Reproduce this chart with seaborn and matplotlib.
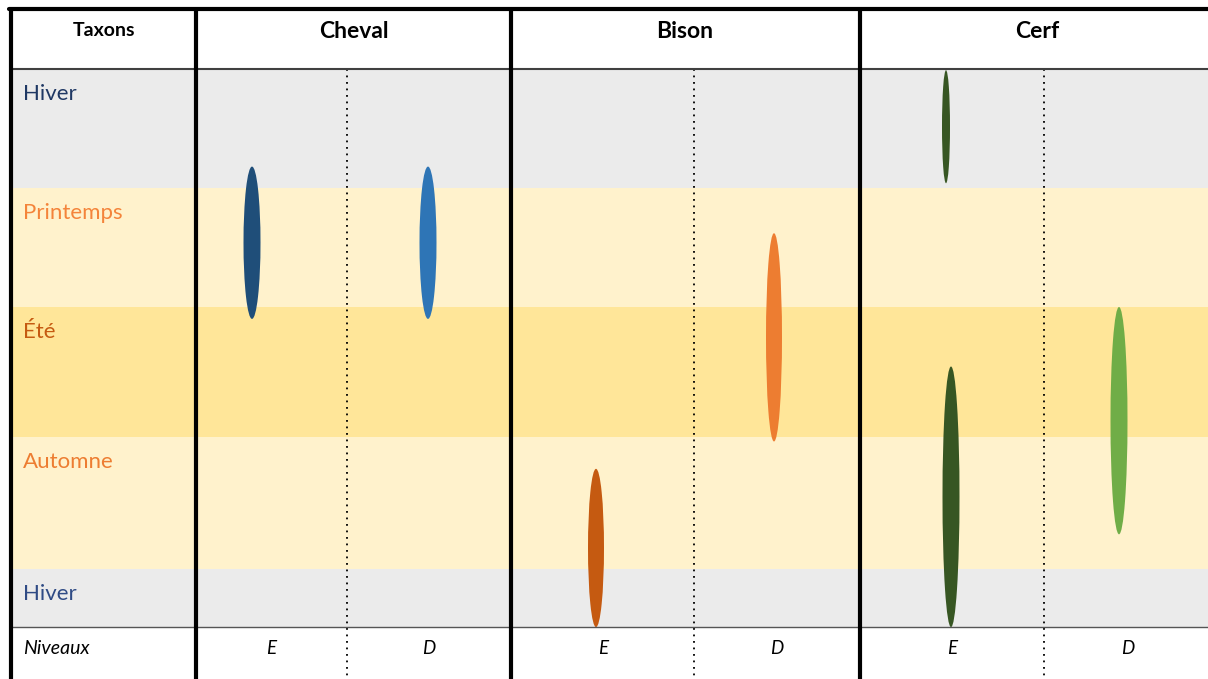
import numpy as np
import seaborn as sns
import matplotlib.pyplot as plt
from matplotlib.patches import Ellipse

# Table content
taxa = ["Cheval", "Bison", "Cerf"]
levels = ["E", "D"]
seasons = ["Hiver", "Printemps", "Été", "Automne", "Hiver"]
# season band edges, in "season units" (0 = top of first Hiver)
season_edges = [0.0, 1.0, 2.0, 3.09, 4.2, 4.69]

# seasonal ranges (start / end in season units) per taxon and level
range_taxon = ["Cheval", "Cheval", "Bison", "Bison", "Cerf", "Cerf", "Cerf"]
range_level = ["E", "D", "E", "D", "E", "E", "D"]
range_start = [0.82, 0.82, 3.36, 1.38, 0.01, 2.50, 2.00]
range_end = [2.10, 2.10, 4.69, 3.13, 0.96, 4.69, 3.91]

# styling
season_fill = ["#EBEBEB", "#FFF2CC", "#FFE699", "#FFF2CC", "#EBEBEB"]
season_text = ["#1F3864", "#F4843A", "#C55A11", "#ED7D31", "#2F4B85"]
range_color = {
    ("Cheval", "E"): "#1F4E79",
    ("Cheval", "D"): "#2E75B6",
    ("Bison", "E"): "#C55A11",
    ("Bison", "D"): "#ED7D31",
    ("Cerf", "E"): "#375623",
    ("Cerf", "D"): "#70AD47",
}
range_width = [17, 17, 16, 16, 8, 17, 17]
range_dx = [-19, -1, -7, -3, -6, -1, -9]

# layout (figure pixels)
W, H = 1208, 679
left, top = 11, 9
col_edges = [196, 511, 860, 1212]
dividers = [347, 694, 1044]
level_x = {"E": [271, 603, 952], "D": [429, 777, 1128]}
header_x = [354, 685, 1037]
body_top, body_unit = 69, 119
niv_top = 627


def sy(v):
    return body_top + v * body_unit


sns.set_theme(style="white")
plt.rcParams["font.family"] = ["Lato", "DejaVu Sans"]
plt.rcParams["text.color"] = "black"

fig = plt.figure(figsize=(W / 100, H / 100), dpi=100)
ax = fig.add_axes([0, 0, 1, 1])
ax.set_xlim(0, W)
ax.set_ylim(H, 0)
ax.axis("off")

# season bands + labels
for i, name in enumerate(seasons):
    y0, y1 = sy(season_edges[i]), sy(season_edges[i + 1])
    ax.fill_between([left, W], y0, y1, color=season_fill[i], lw=0, zorder=0)
    ax.text(23, y0 + 25, name, color=season_text[i], fontsize=16,
            va="center", ha="left")

# header, dotted dividers and level labels
sub_centres = {}
for j, taxon in enumerate(taxa):
    mid = dividers[j]
    ax.plot([mid, mid], [body_top, H], color="black", lw=1.3,
            ls=(0, (1, 2.6)), zorder=2)
    ax.text(header_x[j], 32, taxon, fontsize=16.5, fontweight="bold",
            ha="center", va="center")
    for lev in levels:
        sub_centres[(taxon, lev)] = level_x[lev][j]
        ax.text(level_x[lev][j], 648, lev, fontsize=13.5,
                style="italic", ha="center", va="center")

ax.text(104, 30, "Taxons", fontsize=14, fontweight="bold",
        ha="center", va="center")
ax.text(23, 648, "Niveaux", fontsize=14, style="italic",
        ha="left", va="center")

# seasonal ranges as ellipses
for k in range(len(range_taxon)):
    key = (range_taxon[k], range_level[k])
    y0, y1 = sy(range_start[k]), sy(range_end[k])
    ell = Ellipse((sub_centres[key] + range_dx[k], (y0 + y1) / 2),
                  width=range_width[k], height=y1 - y0,
                  color=range_color[key], lw=0, zorder=3)
    ax.add_patch(ell)

# grid lines
ax.plot([left, W], [body_top, body_top], color="#404040", lw=1.5, zorder=4)
ax.plot([left, W], [niv_top, niv_top], color="#555555", lw=1.0, zorder=4)
ax.plot([left - 2, W], [top, top], color="black", lw=3, zorder=5)
for x in [left] + col_edges[:3]:
    ax.plot([x, x], [top, H], color="black", lw=3, zorder=5)

fig.savefig("out.png", dpi=100)
